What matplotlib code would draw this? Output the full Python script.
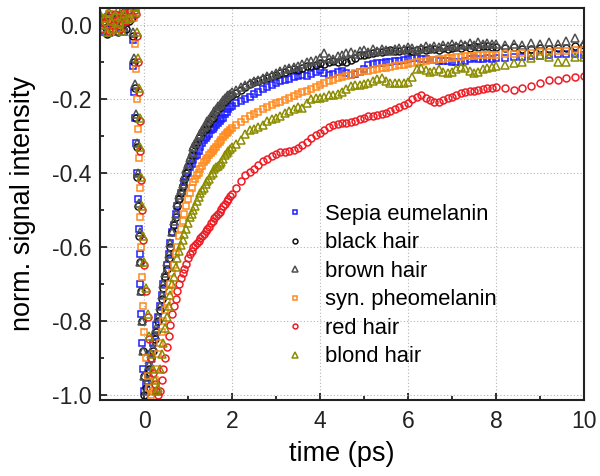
import numpy as np
import matplotlib
matplotlib.use("Agg")
import matplotlib.pyplot as plt

plt.rcParams['font.family'] = ['Liberation Sans', 'DejaVu Sans']
plt.rcParams['axes.unicode_minus'] = False

# delay grids (ps)
t_base = np.round(np.arange(-1.0, -0.34, 0.05), 2)     # pre-zero baseline
t_early = np.round(np.arange(0.0, 1.99, 0.04), 2)     # fine steps after zero
t_mid = np.round(np.arange(2.0, 8.01, 0.1), 2)        # 0.1 ps steps
t_late = np.round(np.arange(8.2, 10.01, 0.2), 2)      # 0.2 ps steps

labels = ["Sepia eumelanin", "black hair", "brown hair",
          "syn. pheomelanin", "red hair", "blond hair"]

# ---- Sepia eumelanin
sepia_base = [0.01, -0.02, 0.015, -0.01, 0.02, 0.0, -0.015, 0.01, 0.025, -0.005, 0.015, -0.02, 0.005, 0.02]
sepia_drop_t = [-0.30, -0.28, -0.26, -0.24, -0.22, -0.20, -0.18, -0.16, -0.14, -0.12, -0.10, -0.08, -0.06, -0.04, -0.02]
sepia_drop = [0.035, 0.02, -0.04, -0.11, -0.18, -0.25, -0.32, -0.40, -0.47, -0.55, -0.62, -0.70, -0.78, -0.86, -0.93]
sepia_early = [-0.99, -0.97, -0.94, -0.92, -0.89, -0.86, -0.84, -0.81, -0.79, -0.76,
               -0.73, -0.70, -0.68, -0.65, -0.62, -0.59, -0.56, -0.54, -0.51, -0.49,
               -0.47, -0.455, -0.44, -0.425, -0.41, -0.40, -0.385, -0.375, -0.365, -0.355,
               -0.35, -0.34, -0.33, -0.32, -0.31, -0.305, -0.30, -0.295, -0.285, -0.28,
               -0.275, -0.27, -0.265, -0.26, -0.255, -0.25, -0.24, -0.235, -0.228, -0.222]
sepia_mid = [-0.218, -0.211, -0.205, -0.2, -0.194, -0.187, -0.18, -0.174, -0.167, -0.162,
             -0.157, -0.152, -0.148, -0.145, -0.141, -0.137, -0.135, -0.138, -0.133, -0.128,
             -0.122, -0.13, -0.135, -0.133, -0.128, -0.124, -0.13, -0.136, -0.132, -0.128,
             -0.118, -0.108, -0.106, -0.104, -0.103, -0.1, -0.099, -0.097, -0.096, -0.094,
             -0.092, -0.09, -0.089, -0.091, -0.093, -0.094, -0.095, -0.096, -0.097, -0.098,
             -0.099, -0.1, -0.099, -0.097, -0.092, -0.09, -0.091, -0.092, -0.09, -0.091, -0.09]
sepia_late = [-0.09, -0.086, -0.086, -0.084, -0.083, -0.081, -0.079, -0.077, -0.079, -0.08]

# ---- black hair
black_base = [-0.01, 0.02, 0.0, -0.025, 0.01, 0.03, -0.01, 0.005, -0.02, 0.015, 0.0, 0.025, -0.01, 0.01]
black_drop_t = [-0.27, -0.25, -0.23, -0.21, -0.19, -0.17, -0.15, -0.13, -0.11, -0.09, -0.07, -0.05, -0.03, -0.01]
black_drop = [0.02, -0.03, -0.10, -0.17, -0.25, -0.33, -0.41, -0.49, -0.57, -0.64, -0.72, -0.80, -0.88, -0.95]
black_early = [-1.0, -0.98, -0.95, -0.93, -0.90, -0.88, -0.85, -0.83, -0.80, -0.77,
               -0.74, -0.71, -0.68, -0.66, -0.63, -0.60, -0.56, -0.54, -0.52, -0.49,
               -0.47, -0.455, -0.435, -0.415, -0.40, -0.38, -0.365, -0.35, -0.335, -0.325,
               -0.315, -0.305, -0.30, -0.29, -0.285, -0.28, -0.27, -0.265, -0.255, -0.25,
               -0.24, -0.235, -0.228, -0.222, -0.215, -0.21, -0.205, -0.2, -0.196, -0.193]
black_mid = [-0.19, -0.183, -0.176, -0.168, -0.16, -0.155, -0.151, -0.146, -0.142, -0.137,
             -0.134, -0.129, -0.127, -0.122, -0.119, -0.121, -0.115, -0.112, -0.11, -0.107,
             -0.104, -0.105, -0.101, -0.098, -0.1, -0.097, -0.099, -0.095, -0.088, -0.082,
             -0.08, -0.078, -0.075, -0.073, -0.072, -0.07, -0.068, -0.069, -0.071, -0.068,
             -0.067, -0.07, -0.068, -0.065, -0.068, -0.066, -0.064, -0.067, -0.063, -0.065,
             -0.062, -0.06, -0.063, -0.058, -0.061, -0.057, -0.059, -0.056, -0.058, -0.06, -0.059]
black_late = [-0.062, -0.06, -0.064, -0.066, -0.062, -0.065, -0.063, -0.062, -0.058, -0.055]

# ---- brown hair
brown_base = [0.025, -0.01, 0.01, 0.03, -0.02, 0.015, 0.0, 0.02, -0.015, 0.03, 0.01, -0.005, 0.02, 0.035]
brown_drop_t = [-0.26, -0.24, -0.22, -0.20, -0.18, -0.16, -0.14, -0.12, -0.10, -0.08, -0.06, -0.04, -0.02]
brown_drop = [0.03, -0.02, -0.09, -0.16, -0.24, -0.32, -0.40, -0.48, -0.56, -0.64, -0.72, -0.80, -0.88]
brown_early = [-0.95, -0.99, -0.96, -0.92, -0.90, -0.87, -0.84, -0.82, -0.79, -0.76,
               -0.73, -0.70, -0.67, -0.64, -0.62, -0.59, -0.56, -0.53, -0.51, -0.48,
               -0.46, -0.445, -0.43, -0.41, -0.39, -0.375, -0.36, -0.345, -0.33, -0.32,
               -0.31, -0.30, -0.295, -0.285, -0.275, -0.27, -0.26, -0.255, -0.245, -0.24,
               -0.232, -0.228, -0.22, -0.215, -0.21, -0.202, -0.198, -0.193, -0.19, -0.186]
brown_mid = [-0.18, -0.175, -0.168, -0.163, -0.157, -0.152, -0.148, -0.144, -0.139, -0.135,
             -0.13, -0.125, -0.12, -0.117, -0.113, -0.11, -0.105, -0.1, -0.098, -0.094,
             -0.09, -0.076, -0.088, -0.092, -0.085, -0.08, -0.075, -0.072, -0.078, -0.07,
             -0.068, -0.073, -0.066, -0.07, -0.064, -0.067, -0.071, -0.065, -0.062, -0.066,
             -0.06, -0.063, -0.067, -0.061, -0.058, -0.062, -0.057, -0.06, -0.054, -0.058,
             -0.052, -0.056, -0.05, -0.054, -0.049, -0.053, -0.047, -0.052, -0.048, -0.051, -0.05]
brown_late = [-0.053, -0.05, -0.055, -0.048, -0.052, -0.046, -0.05, -0.044, -0.036, -0.048]

# ---- syn. pheomelanin
pheo_base = [0.0, 0.02, -0.01, 0.015, 0.03, -0.015, 0.01, 0.025, 0.0, -0.01, 0.02, 0.01, 0.03, 0.015]
pheo_drop_t = [-0.24, -0.22, -0.20, -0.18, -0.16, -0.14, -0.12, -0.10, -0.08, -0.06, -0.04, -0.02]
pheo_drop = [0.045, 0.02, -0.05, -0.12, -0.20, -0.28, -0.36, -0.44, -0.52, -0.60, -0.68, -0.76]
pheo_early = [-0.83, -0.90, -0.95, -0.98, -1.0, -0.99, -0.96, -0.93, -0.89, -0.86,
              -0.83, -0.80, -0.77, -0.75, -0.72, -0.70, -0.67, -0.65, -0.62, -0.60,
              -0.57, -0.55, -0.53, -0.51, -0.49, -0.47, -0.455, -0.44, -0.425, -0.415,
              -0.405, -0.40, -0.39, -0.38, -0.37, -0.365, -0.36, -0.35, -0.345, -0.34,
              -0.335, -0.33, -0.322, -0.316, -0.31, -0.304, -0.298, -0.293, -0.288, -0.283]
pheo_mid = [-0.278, -0.27, -0.262, -0.254, -0.247, -0.24, -0.234, -0.228, -0.222, -0.217,
            -0.212, -0.207, -0.202, -0.197, -0.192, -0.187, -0.182, -0.177, -0.172, -0.167,
            -0.162, -0.157, -0.152, -0.148, -0.144, -0.14, -0.137, -0.134, -0.131, -0.128,
            -0.125, -0.123, -0.121, -0.119, -0.117, -0.115, -0.113, -0.111, -0.109, -0.107,
            -0.105, -0.103, -0.101, -0.099, -0.097, -0.095, -0.094, -0.092, -0.091, -0.089,
            -0.088, -0.087, -0.086, -0.085, -0.084, -0.083, -0.082, -0.081, -0.081, -0.08, -0.08]
pheo_late = [-0.079, -0.078, -0.076, -0.075, -0.073, -0.072, -0.07, -0.069, -0.068, -0.067]

# ---- red hair
red_base = [0.02, -0.01, 0.005, 0.025, -0.015, 0.01, 0.0, 0.03, 0.015, -0.01, 0.02, 0.035, 0.01, 0.04]
red_drop_t = [-0.20, -0.18, -0.16, -0.14, -0.12, -0.10, -0.08, -0.06, -0.04, -0.02]
red_drop = [0.04, 0.03, -0.03, -0.10, -0.18, -0.26, -0.34, -0.42, -0.50, -0.58]
red_early = [-0.65, -0.72, -0.79, -0.85, -0.90, -0.94, -0.97, -0.99, -1.0, -0.99,
             -0.96, -0.93, -0.90, -0.87, -0.84, -0.81, -0.78, -0.76, -0.74, -0.72,
             -0.70, -0.685, -0.67, -0.66, -0.645, -0.63, -0.62, -0.61, -0.60, -0.595,
             -0.59, -0.585, -0.575, -0.57, -0.565, -0.558, -0.55, -0.545, -0.535, -0.53,
             -0.522, -0.516, -0.51, -0.505, -0.498, -0.49, -0.485, -0.477, -0.47, -0.463]
red_mid = [-0.456, -0.44, -0.422, -0.405, -0.396, -0.388, -0.378, -0.368, -0.362, -0.355,
           -0.348, -0.343, -0.342, -0.34, -0.338, -0.333, -0.325, -0.315, -0.305, -0.298,
           -0.292, -0.284, -0.276, -0.27, -0.268, -0.266, -0.264, -0.262, -0.259, -0.255,
           -0.25, -0.247, -0.245, -0.243, -0.241, -0.238, -0.232, -0.226, -0.221, -0.216,
           -0.21, -0.2, -0.194, -0.19, -0.197, -0.203, -0.207, -0.207, -0.202, -0.198,
           -0.194, -0.189, -0.185, -0.181, -0.179, -0.177, -0.175, -0.173, -0.171, -0.169, -0.168]
red_late = [-0.171, -0.176, -0.171, -0.165, -0.158, -0.149, -0.149, -0.142, -0.14, -0.138]

# ---- blond hair
blond_base = [0.03, 0.0, 0.02, -0.02, 0.035, 0.01, -0.01, 0.025, 0.04, 0.005, -0.015, 0.03, 0.015, 0.02]
blond_drop_t = [-0.20, -0.18, -0.16, -0.14, -0.12, -0.10, -0.08, -0.06, -0.04, -0.02]
blond_drop = [0.05, 0.035, -0.02, -0.09, -0.17, -0.25, -0.33, -0.41, -0.49, -0.57]
blond_early = [-0.64, -0.71, -0.78, -0.84, -0.89, -0.93, -0.96, -0.99, -0.98, -0.93,
               -0.89, -0.86, -0.82, -0.79, -0.76, -0.73, -0.70, -0.68, -0.655, -0.63,
               -0.61, -0.595, -0.58, -0.565, -0.55, -0.535, -0.52, -0.51, -0.50, -0.49,
               -0.475, -0.465, -0.455, -0.445, -0.44, -0.43, -0.422, -0.415, -0.405, -0.40,
               -0.39, -0.385, -0.38, -0.375, -0.37, -0.362, -0.352, -0.345, -0.34, -0.335]
blond_mid = [-0.33, -0.322, -0.31, -0.295, -0.285, -0.28, -0.277, -0.27, -0.26, -0.255,
             -0.252, -0.246, -0.238, -0.232, -0.228, -0.222, -0.225, -0.21, -0.2, -0.196,
             -0.198, -0.194, -0.19, -0.188, -0.186, -0.18, -0.172, -0.165, -0.162, -0.163,
             -0.16, -0.156, -0.15, -0.145, -0.144, -0.15, -0.156, -0.158, -0.157, -0.158,
             -0.155, -0.14, -0.12, -0.117, -0.121, -0.126, -0.124, -0.12, -0.126, -0.13,
             -0.128, -0.12, -0.113, -0.115, -0.124, -0.13, -0.128, -0.12, -0.115, -0.113, -0.11]
blond_late = [-0.108, -0.104, -0.099, -0.09, -0.081, -0.086, -0.099, -0.099, -0.086, -0.086]

series = [
    (sepia_base, sepia_drop_t, sepia_drop, sepia_early, sepia_mid, sepia_late, 's', '#1f1fff'),
    (black_base, black_drop_t, black_drop, black_early, black_mid, black_late, 'o', '#111111'),
    (brown_base, brown_drop_t, brown_drop, brown_early, brown_mid, brown_late, '^', '#505050'),
    (pheo_base, pheo_drop_t, pheo_drop, pheo_early, pheo_mid, pheo_late, 's', '#ff8a1c'),
    (red_base, red_drop_t, red_drop, red_early, red_mid, red_late, 'o', '#ee1c24'),
    (blond_base, blond_drop_t, blond_drop, blond_early, blond_mid, blond_late, '^', '#8c8c00'),
]
msize = {'s': 4.6, 'o': 5.0, '^': 5.3}

fig = plt.figure(figsize=(6.0, 4.76), dpi=100)
ax = fig.add_axes([0.1667, 0.1597, 0.8066, 0.8235])

for (base, dt, dy, early, mid, late, mk, col), lab in zip(series, labels):
    t = np.concatenate([t_base, dt, t_early, t_mid, t_late])
    y = np.concatenate([base, dy, early, mid, late])
    ax.plot(t, y, linestyle='none', marker=mk, markersize=msize[mk], markerfacecolor='none',
            markeredgecolor=col, markeredgewidth=1.1, label=lab)

ax.set_xlim(-1, 10)
ax.set_ylim(-1.0135, 0.046)
ax.set_xticks([0, 2, 4, 6, 8, 10])
ax.set_xticks([1, 3, 5, 7, 9], minor=True)
ax.set_yticks([-1.0, -0.8, -0.6, -0.4, -0.2, 0.0])
ax.set_yticks([-0.9, -0.7, -0.5, -0.3, -0.1], minor=True)
ax.yaxis.set_major_formatter(matplotlib.ticker.FormatStrFormatter('%.1f'))

ax.grid(True, which='major', linestyle=(0, (1, 2)), color='#b5b5b5', linewidth=0.8)
ax.set_axisbelow(True)

ax.tick_params(which='both', direction='in', top=False, right=False,
               labelsize=16.5, colors='#222222', width=1.3)
ax.tick_params(which='major', length=5)
ax.tick_params(which='minor', length=3)
ax.tick_params(axis='x', pad=7)
ax.tick_params(axis='y', pad=6)
for s in ax.spines.values():
    s.set_linewidth(1.5)
    s.set_color('#222222')

ax.set_xlabel('time (ps)', fontsize=19.5, labelpad=6)
ax.set_ylabel('norm. signal intensity', fontsize=19.5, labelpad=12)

leg = ax.legend(loc='upper left', bbox_to_anchor=(0.3847, 0.5), frameon=False,
                fontsize=15.8, handlelength=0.8, handletextpad=0.97, borderpad=0,
                borderaxespad=0, labelspacing=0.34, markerscale=0.7)

fig.savefig('out.png', dpi=100)
